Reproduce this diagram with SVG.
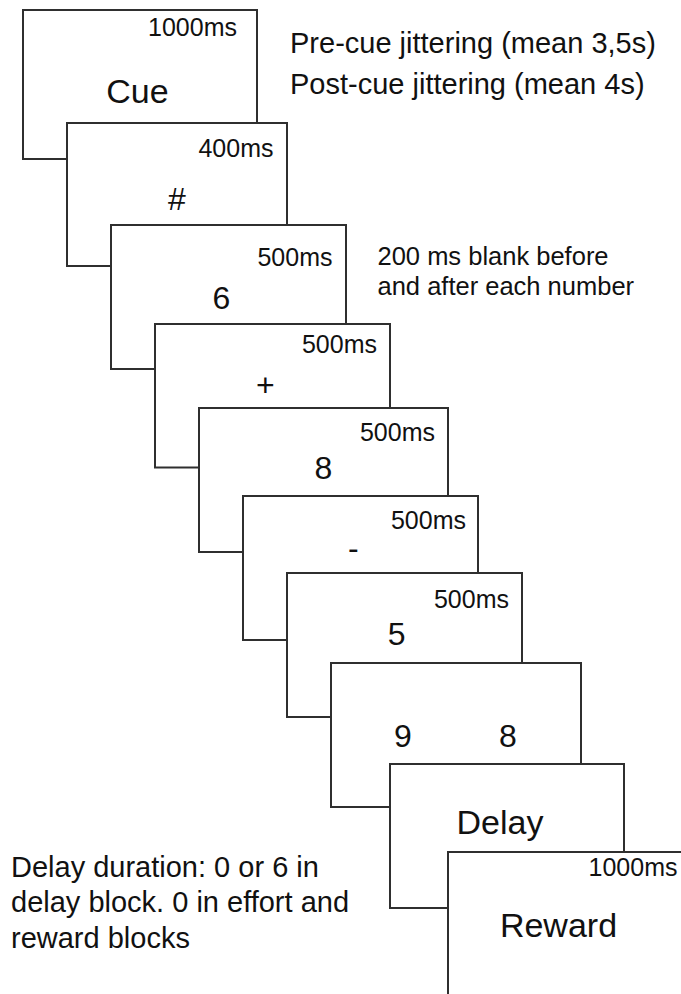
<svg xmlns="http://www.w3.org/2000/svg" width="681" height="994" viewBox="0 0 681 994">
  <style>
    .frame { fill: #ffffff; stroke: #2f2f2f; stroke-width: 2; }
    text { font-family: "Liberation Sans", Arial, Helvetica, sans-serif; fill: #111111; }
    .ms { font-size: 25px; text-anchor: end; }
    .big { font-size: 34px; text-anchor: middle; }
    .sym { font-size: 32px; text-anchor: middle; }
    .note { font-size: 29px; }
    .small-note { font-size: 25.5px; }
  </style>
  <rect width="681" height="994" fill="#ffffff"/>

  <!-- trial screens, each drawn over the previous one -->
  <g id="screen-cue">
    <rect class="frame" x="23" y="10" width="234" height="149"/>
    <text class="ms" x="237" y="36">1000ms</text>
    <text class="big" x="137.5" y="102.7">Cue</text>
  </g>
  <g id="screen-hash">
    <rect class="frame" x="67" y="123" width="220" height="143"/>
    <text class="ms" x="273.5" y="156.7">400ms</text>
    <text class="sym" x="177" y="210">#</text>
  </g>
  <g id="screen-6">
    <rect class="frame" x="111" y="225" width="235" height="144"/>
    <text class="ms" x="332.5" y="266">500ms</text>
    <text class="sym" x="221.3" y="309.3">6</text>
  </g>
  <g id="screen-plus">
    <rect class="frame" x="155" y="324" width="235" height="143.5"/>
    <text class="ms" x="377" y="353.3">500ms</text>
    <text class="sym" x="265.3" y="396">+</text>
  </g>
  <g id="screen-8">
    <rect class="frame" x="199" y="408" width="249" height="144"/>
    <text class="ms" x="435" y="441">500ms</text>
    <text class="sym" x="323.3" y="479.3">8</text>
  </g>
  <g id="screen-minus">
    <rect class="frame" x="243" y="496" width="235" height="144"/>
    <text class="ms" x="466" y="529.3">500ms</text>
    <text class="sym" x="353.3" y="559">-</text>
  </g>
  <g id="screen-5">
    <rect class="frame" x="287" y="573" width="235" height="144"/>
    <text class="ms" x="509" y="607.7">500ms</text>
    <text class="sym" x="396.7" y="645">5</text>
  </g>
  <g id="screen-choice">
    <rect class="frame" x="331" y="663" width="250" height="144"/>
    <text class="sym" x="403" y="747.3">9</text>
    <text class="sym" x="508" y="747.3">8</text>
  </g>
  <g id="screen-delay">
    <rect class="frame" x="390" y="764" width="234" height="144"/>
    <text class="big" x="500" y="834.3">Delay</text>
  </g>
  <g id="screen-reward">
    <rect class="frame" x="448" y="852" width="240" height="160"/>
    <text class="ms" x="677.5" y="875.7">1000ms</text>
    <text class="big" x="558.5" y="937.3">Reward</text>
  </g>

  <!-- annotations -->
  <g id="jitter-notes">
    <text class="note" x="290" y="53.3">Pre-cue jittering (mean 3,5s)</text>
    <text class="note" x="290" y="94">Post-cue jittering (mean 4s)</text>
  </g>
  <g id="blank-note">
    <text class="small-note" x="377.5" y="265">200 ms blank before</text>
    <text class="small-note" x="377.5" y="295">and after each number</text>
  </g>
  <g id="delay-note">
    <text class="note" x="11" y="877.3">Delay duration: 0 or 6 in</text>
    <text class="note" x="11" y="911.7">delay block. 0 in effort and</text>
    <text class="note" x="11" y="947.7">reward blocks</text>
  </g>

  <g id="connectors"/>
</svg>
